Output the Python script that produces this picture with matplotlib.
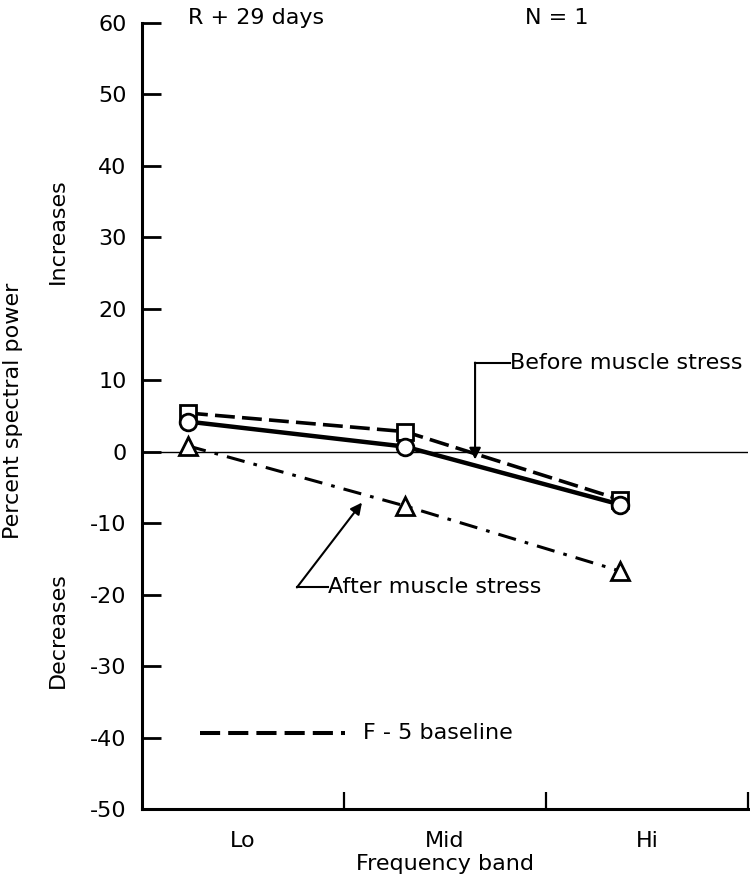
import matplotlib
matplotlib.use("Agg")
import matplotlib.pyplot as plt

plt.rcParams['font.family'] = ['DejaVu Sans']
plt.rcParams['axes.unicode_minus'] = False

# band positions of the points (band edges sit at 0, 1, 2, 3)
x_pts = [0.228, 1.302, 2.366]
bands = ['Lo', 'Mid', 'Hi']
band_centers = [0.5, 1.5, 2.5]

baseline = [5.4, 2.8, -6.7]      # F - 5 baseline (squares, dashed)
before = [4.2, 0.7, -7.4]        # before muscle stress (circles, solid)
after = [0.8, -7.6, -16.7]       # after muscle stress (triangles, dash-dot)

y_ticks = [60, 50, 40, 30, 20, 10, 0, -10, -20, -30, -40, -50]

fig = plt.figure(figsize=(7.5, 8.84), dpi=100)
ax = fig.add_axes([0.1893, 0.0848, 0.808, 0.8895])
ax.set_xlim(0, 3)
ax.set_ylim(-50, 60)

fs = 16

# zero line
ax.axhline(0, color='black', lw=1.0, zorder=1)

ax.plot(x_pts, baseline, color='black', lw=2.6, dashes=(5.5, 2), marker='s',
        ms=11, mfc='white', mec='black', mew=2.0, zorder=3)
ax.plot(x_pts, before, color='black', lw=3.2, ls='-', marker='o',
        ms=12, mfc='white', mec='black', mew=2.0, zorder=4)
ax.plot(x_pts, after, color='black', lw=2.2, dashes=(6, 3, 1.2, 3), marker='^',
        ms=13, mfc='white', mec='black', mew=2.0, zorder=3)

# leaders
ax.plot([1.822, 1.649], [12.45, 12.45], color='black', lw=1.5)
ax.annotate('', xy=(1.649, -1.1), xytext=(1.649, 12.45),
            arrowprops=dict(arrowstyle='-|>', color='black', lw=1.5,
                            mutation_scale=17, shrinkA=0, shrinkB=0))
ax.text(1.822, 12.45, 'Before muscle stress', fontsize=fs, va='center', ha='left')

ax.plot([0.921, 0.767], [-19.0, -19.0], color='black', lw=1.5)
ax.annotate('', xy=(1.089, -7.13), xytext=(0.767, -19.0),
            arrowprops=dict(arrowstyle='-|>', color='black', lw=1.5,
                            mutation_scale=17, shrinkA=0, shrinkB=0))
ax.text(0.921, -19.0, 'After muscle stress', fontsize=fs, va='center', ha='left')

# key
ax.plot([0.287, 1.005], [-39.4, -39.4], color='black', lw=2.9, dashes=(5, 2))
ax.text(1.094, -39.4, 'F - 5 baseline', fontsize=fs, va='center', ha='left')

# header texts
ax.text(0.228, 60.7, 'R + 29 days', fontsize=fs, va='center', ha='left')
ax.text(1.896, 60.7, 'N = 1', fontsize=fs, va='center', ha='left')

# spines
for s in ['top', 'right']:
    ax.spines[s].set_visible(False)
ax.spines['left'].set_linewidth(2.2)
ax.spines['bottom'].set_linewidth(2.2)

ax.set_yticks(y_ticks)
ax.set_yticklabels([str(v) for v in y_ticks])
ax.tick_params(axis='y', direction='in', length=14, width=2.0, pad=11, labelsize=fs)

ax.set_xticks([1, 2, 3])
ax.set_xticklabels([])
ax.set_xticks(band_centers, minor=True)
ax.set_xticklabels(bands, minor=True)
ax.tick_params(axis='x', which='major', direction='in', length=12, width=1.6)
ax.tick_params(axis='x', which='minor', length=0, pad=16, labelsize=fs)

ax.set_xlabel('Frequency band', fontsize=fs, labelpad=2)
ax.set_ylabel('Percent spectral power', fontsize=fs)
ax.yaxis.set_label_coords(-0.196, 0.507)

trans = ax.get_yaxis_transform()
ax.text(-0.139, 30.8, 'Increases', transform=trans, rotation=90,
        fontsize=fs, ha='center', va='center')
ax.text(-0.139, -25, 'Decreases', transform=trans, rotation=90,
        fontsize=fs, ha='center', va='center')

fig.savefig('out.png', dpi=100)
